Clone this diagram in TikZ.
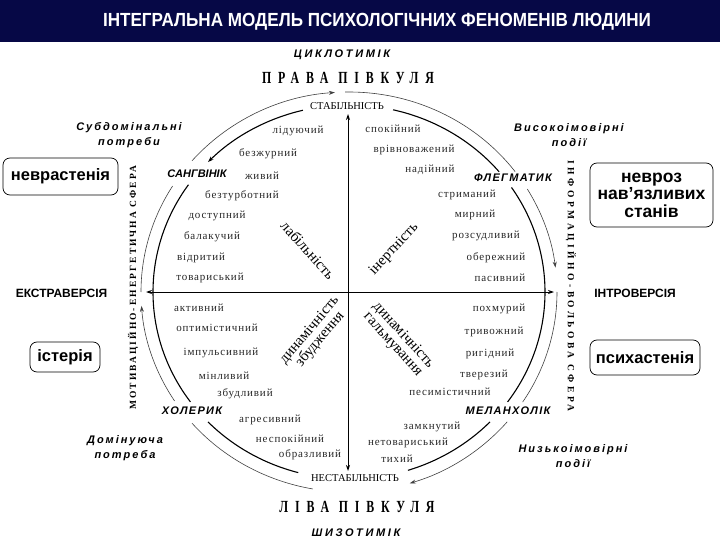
\documentclass[tikz,border=0pt]{standalone}
\usepackage{fontspec}
\setmainfont{Liberation Serif}
\setsansfont{Liberation Sans}
\usetikzlibrary{arrows.meta,calc}
\newfontfamily\titlefont[FakeStretch=0.9]{Liberation Sans}
\newfontfamily\hemifont[FakeStretch=0.7,LetterSpace=40]{Liberation Serif}
\newfontfamily\spsans[LetterSpace=18]{Liberation Sans}
\newfontfamily\cyclofont[LetterSpace=24]{Liberation Sans}
\newfontfamily\tempfont[LetterSpace=12]{Liberation Sans}
\newfontfamily\wordfont[LetterSpace=8]{Liberation Serif}
\newfontfamily\sphereL[LetterSpace=22]{Liberation Serif}
\newfontfamily\sphereR[LetterSpace=37]{Liberation Serif}
\definecolor{navybar}{RGB}{6,8,70}
\newcommand{\innerarc}[3][]{\draw[innerring,#1] ($(c)+({-(#2)}:196 and 187)$) arc[start angle={-(#2)}, end angle={-(#3)}, x radius=196, y radius=187];}
\newcommand{\outerarc}[3][]{\draw[outerring,#1] ($(c)+({-(#2)}:208 and 200)$) arc[start angle={-(#2)}, end angle={-(#3)}, x radius=208, y radius=200];}
\begin{document}
\begin{tikzpicture}[x=1pt,y=-1pt,
  innerring/.style={line width=1.1pt,black},
  outerring/.style={line width=0.6pt,black!75},
  arrowend/.style={-{Stealth[length=6pt,width=4pt]}},
  axisline/.style={line width=0.9pt,{Stealth[length=6pt,width=4pt]}-{Stealth[length=6pt,width=4pt]}},
  wordlbl/.style={font=\wordfont\fontsize{11}{12}\selectfont,inner sep=0pt,text=black!85},
  temper/.style={font=\tempfont\bfseries\itshape\fontsize{11}{12}\selectfont,inner sep=0pt},
  sidenote/.style={font=\spsans\bfseries\itshape\fontsize{11}{15}\selectfont,align=center,inner sep=0pt},
  diaglabel/.style={font=\fontsize{15}{14}\selectfont,align=center,inner sep=0pt},
  hemi/.style={font=\hemifont\bfseries\fontsize{17}{19}\selectfont,inner sep=0pt},
  stablbl/.style={font=\fontsize{10.5}{12}\selectfont,inner sep=0pt},
  verto/.style={font=\sffamily\bfseries\fontsize{12}{14}\selectfont,inner sep=0pt},
  disorder/.style={draw,rounded corners=7pt,line width=0.7pt,font=\sffamily\bfseries\fontsize{16.5}{17.5}\selectfont,align=center,inner sep=0pt},
  typelabel/.style={font=\cyclofont\bfseries\itshape\fontsize{11}{12}\selectfont,inner sep=0pt},
]
\useasboundingbox (0,0) rectangle (720,540);
\fill[navybar] (0,0) rectangle (720,42);
\node[text=white,font=\titlefont\bfseries\fontsize{19}{21}\selectfont,inner sep=0pt] (title) at (377,22) {ІНТЕГРАЛЬНА МОДЕЛЬ ПСИХОЛОГІЧНИХ ФЕНОМЕНІВ ЛЮДИНИ};

\coordinate (c) at (349,292);

% hemisphere labels
\node[typelabel] (cyclo) at (342,55) {ЦИКЛОТИМІК};
\node[hemi] (right) at (348,78) {ПРАВА ПІВКУЛЯ};
\node[stablbl] (stab) at (347,106) {СТАБІЛЬНІСТЬ};
\node[stablbl] (unstab) at (355,478) {НЕСТАБІЛЬНІСТЬ};
\node[hemi] (left) at (357,507) {ЛІВА ПІВКУЛЯ};
\node[typelabel] (schizo) at (356,533) {ШИЗОТИМІК};

% axes
\coordinate (vt) at (348,114);
\coordinate (vb) at (348,471);
\coordinate (hl) at (146,292);
\coordinate (hr) at (554,292);
\draw[axisline] (vb) -- (vt);
\draw[axisline] (hl) -- (hr);

% inner ring
\innerarc[arrowend]{103.6}{136}
\innerarc{145}{216}
\innerarc{224}{255}
\innerarc{287.5}{316}
\innerarc{324}{394}
\innerarc{40}{77}

% outer ring
\outerarc[arrowend]{139}{93.9}
\outerarc{180}{148}
\outerarc[arrowend]{213}{184}
\outerarc{260}{221}
\outerarc[arrowend]{319.5}{287}
\outerarc{360}{326.6}
\outerarc[arrowend]{31}{7}
\outerarc{91.1}{37}

% temperaments
\node[temper,font=\sffamily\bfseries\itshape\fontsize{11}{12}\selectfont] (sang) at (197,174) {САНГВІНІК};
\node[temper] (phleg) at (513,178) {ФЛЕГМАТИК};
\node[temper] (chol) at (192,411) {ХОЛЕРИК};
\node[temper] (mel) at (508,411) {МЕЛАНХОЛІК};

% top-left words
\node[wordlbl] (w1) at (298,131) {лідуючий};
\node[wordlbl] (w2) at (268,154) {безжурний};
\node[wordlbl] (w3) at (262,176) {живий};
\node[wordlbl] (w4) at (242,196) {безтурботний};
\node[wordlbl] (w5) at (217,216) {доступний};
\node[wordlbl] (w6) at (212,237) {балакучий};
\node[wordlbl] (w7) at (201,258) {відритий};
\node[wordlbl] (w8) at (210,278) {товариський};
% top-right words
\node[wordlbl] (w9) at (393,129) {спокійний};
\node[wordlbl] (w10) at (414,150) {врівноважений};
\node[wordlbl] (w11) at (430,170) {надійний};
\node[wordlbl] (w12) at (467,195) {стриманий};
\node[wordlbl] (w13) at (475,215) {мирний};
\node[wordlbl] (w14) at (486,236) {розсудливий};
\node[wordlbl] (w15) at (496,258) {обережний};
\node[wordlbl] (w16) at (500,278) {пасивний};
% bottom-left words
\node[wordlbl] (w17) at (199,308) {активний};
\node[wordlbl] (w18) at (217,328) {оптимістичний};
\node[wordlbl] (w19) at (221,353) {імпульсивний};
\node[wordlbl] (w20) at (224,376) {мінливий};
\node[wordlbl] (w21) at (245,394) {збудливий};
\node[wordlbl] (w22) at (270,420) {агресивний};
\node[wordlbl] (w23) at (290,439) {неспокійний};
\node[wordlbl] (w24) at (310,455) {образливий};
% bottom-right words
\node[wordlbl] (w25) at (499,309) {похмурий};
\node[wordlbl] (w26) at (494,332) {тривожний};
\node[wordlbl] (w27) at (490,354) {ригідний};
\node[wordlbl] (w28) at (484,375) {тверезий};
\node[wordlbl] (w29) at (450,392) {песимістичний};
\node[wordlbl] (w30) at (432,427) {замкнутий};
\node[wordlbl] (w31) at (408,443) {нетовариський};
\node[wordlbl] (w32) at (397,459) {тихий};

% diagonal labels
\node[diaglabel,rotate=-48] (lab) at (308,250) {лабільність};
\node[diaglabel,rotate=47] (inert) at (394,249) {інертність};
\node[diaglabel,rotate=50] (dynz) at (315,335) {динамічність\\збудження};
\node[diaglabel,rotate=-48] (dynh) at (398,340) {динамічність\\гальмування};

% side notes
\node[sidenote] (subd) at (129,135) {Субдомінальні\\потреби};
\node[sidenote] (hiprob) at (569,135) {Високоімовірні\\події};
\node[sidenote] (domin) at (125,448) {Домінуюча\\потреба};
\node[sidenote] (loprob) at (573,456) {Низькоімовірні\\події};

% spheres
\node[font=\sphereL\bfseries\fontsize{9.5}{10}\selectfont,rotate=90,inner sep=0pt] (motiv) at (133,288) {МОТИВАЦІЙНО-ЕНЕРГЕТИЧНА СФЕРА};
\node[font=\sphereR\bfseries\fontsize{9.5}{10}\selectfont,rotate=-90,inner sep=0pt] (inform) at (571,286) {ІНФОРМАЦІЙНО-ВОЛЬОВА СФЕРА};

% extraversion / introversion
\node[verto] (extra) at (61.5,293) {ЕКСТРАВЕРСІЯ};
\node[verto] (intro) at (635,293) {ІНТРОВЕРСІЯ};

% disorders
\node[disorder,minimum width=115,minimum height=37] (neur) at (60.5,176.5) {неврастенія};
\node[disorder,minimum width=70,minimum height=30] (hyst) at (65,357) {істерія};
\node[disorder,minimum width=123,minimum height=64,font=\sffamily\bfseries\fontsize{17.5}{17.5}\selectfont] (obs) at (651.5,195) {невроз\\нав’язливих\\станів};
\node[disorder,minimum width=110,minimum height=35] (psych) at (645,357.5) {психастенія};
\end{tikzpicture}
\end{document}
